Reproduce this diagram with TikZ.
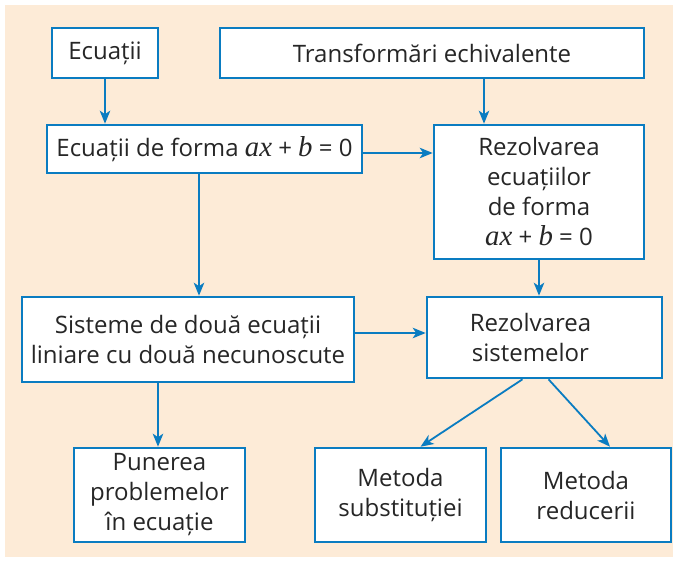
\documentclass[tikz,border=0pt]{standalone}
\usepackage{fontspec}
\setmainfont{Open Sans}
\newfontfamily\varfont{Liberation Serif}[Scale=1.2,ItalicFont={* Italic}]
\newcommand{\vr}[1]{{\varfont\itshape #1}}
\usetikzlibrary{arrows.meta}
\definecolor{boxblue}{HTML}{0A7CC1}
\definecolor{peach}{HTML}{FDEBD7}
\tikzset{
  block/.style={draw=boxblue, line width=2.6pt, fill=white, align=center,
    inner sep=0pt, font=\fontsize{24}{30}\selectfont, text=black!85},
  link/.style={draw=boxblue, line width=1.8pt,
    -{Stealth[length=13pt,width=10.5pt,inset=3.5pt]}}
}

\begin{document}
\begin{tikzpicture}[x=1pt,y=-1pt]
        \useasboundingbox (0,0) rectangle (673,562);
        \fill[peach] (5,5) rectangle (673,557);

        \node[block, minimum width=106pt, minimum height=50pt] (ecuatii) at (105,53) {Ecuații};
        \node[block, minimum width=424pt, minimum height=50pt] (transf) at (432,53) {Transformări echivalente};
        \node[block, minimum width=315pt, minimum height=48pt] (forma) at (204.5,149) {Ecuații de forma \vr{ax} + \vr{b} = 0};
        \node[block, minimum width=210pt, minimum height=134pt] (rezec) at (539,192) {Rezolvarea\\ecuațiilor\\de forma\\\vr{ax} + \vr{b} = 0};
        \node[block, minimum width=332pt, minimum height=85pt] (sist) at (188,339.5) {Sisteme de două ecuații\\liniare cu două necunoscute};
        \node[block, minimum width=235pt, minimum height=81pt] (rezsist) at (544.5,337.5) {Rezolvarea\hspace*{28pt}\\sistemelor\hspace*{28pt}};
        \node[block, minimum width=171pt, minimum height=94pt] (punerea) at (159.5,495) {Punerea\\problemelor\\în ecuație};
        \node[block, minimum width=171pt, minimum height=94pt] (subst) at (400.5,495) {Metoda\\substituției};
        \node[block, minimum width=170pt, minimum height=94pt] (reduc) at (586,495) {Metoda\\reducerii};

        \draw[link] (ecuatii) -- (ecuatii |- forma.north);
        \draw[link] ([xshift=52pt]transf.south) -- ([xshift=52pt]transf.south |- rezec.north);
        \draw[link] ([yshift=-4pt]forma.east) -- ([yshift=-4pt]forma.east -| rezec.west);
        \draw[link] ([xshift=-5.5pt]forma.south) -- ([xshift=-5.5pt]forma.south |- sist.north);
        \draw[link] (rezec) -- (rezec |- rezsist.north);
        \draw[link] ([yshift=6.5pt]sist.east) -- ([yshift=6.5pt]sist.east -| rezsist.west);
        \draw[link] ([xshift=-1.5pt]punerea.north |- sist.south) -- ([xshift=-1.5pt]punerea.north);
        \draw[link] ([xshift=-22pt]rezsist.south) -- ([xshift=20pt]subst.north);
        \draw[link] ([xshift=4pt]rezsist.south) -- ([xshift=24pt]reduc.north);
      \end{tikzpicture}
\end{document}
